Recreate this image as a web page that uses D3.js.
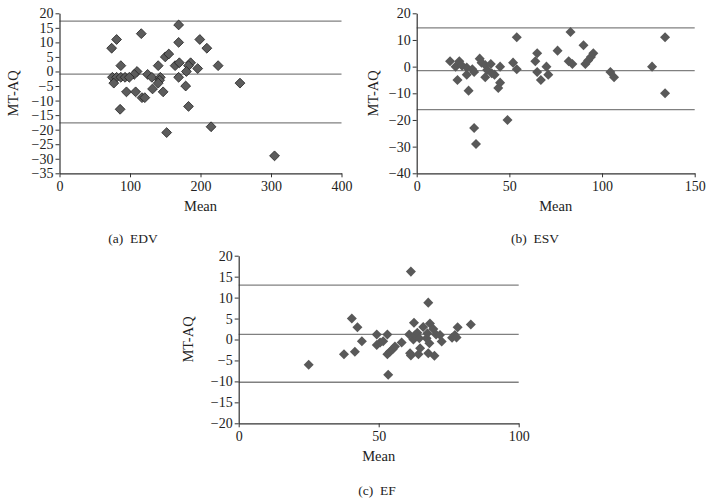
<!DOCTYPE html>
<html><head><meta charset="utf-8">
<script src="https://cdn.jsdelivr.net/npm/d3@7"></script>
<style>
body{margin:0;background:#fff;}
svg{display:block;font-family:"Liberation Serif","DejaVu Serif",serif;}
text{white-space:pre;}
</style></head>
<body><svg id="c" width="712" height="499"></svg>
<script>
// Panel (a) EDV
const edvMean = [169,116,81,74,169,199,209,150,155,87,140,164,170,186,183,196,225,180,110,106,125,131,75,81,87,93,99,77,143,142,140,169,179,95,108,132,147,117,121,86,183,152,215,256,305];
const edvDiff = [16,13,11,8,10,11,8,5,6,2,2,2,3,3,2,1,2,0,0,-1,-1,-2,-2,-2,-2,-2,-2,-4,-2,-3,-4,-2,-5,-7,-7,-6,-7,-9,-9,-13,-12,-21,-19,-4,-29];
const edvLines = [17.3, -0.9, -17.7];
// Panel (b) ESV
const esvMean = [18,21,23,22,24.5,27,27,28,30,31,31,32,34,35,37,37,38,40,40.5,42,44,45,45,49,52,54,54,64,65,65,67,70,71,76,82,84,83,90,91,92.5,94,95.3,104.5,106.5,127,134,134];
const esvDiff = [2,0,2,-5,0.3,-0.3,-3,-9,-1,-2,-23,-29,3,1.5,0.6,-4,-1.3,1,-2.5,-3,-8,-6,0,-20,1.5,11,-1,2,5,-2,-5,0,-3,6,2,1,13,8,1,2.3,3.6,5,-2,-4,0,11,-10];
const esvLines = [14.5, -1.5, -16.1];
// Panel (c) EF
const efMean = [25,37.6,40.4,41.5,42.4,44,49.3,49.3,50.5,51.6,53.1,53.1,54,55,55.8,58.2,53.4,60.9,61.2,61.5,61.5,62.4,62.6,63,63.8,64.5,64.2,64.8,65.9,67.1,67.4,67.7,68.1,68.3,67.7,69.5,69.9,70.5,71.9,72.5,76.2,77.2,77.8,78.2,82.9];
const efDiff = [-6,-3.5,5,-2.9,2.9,-0.4,1.2,-1.3,-0.7,-0.4,1.2,-3.5,-2.9,-2.3,-1.7,-0.7,-8.4,1.2,-3.3,-3.8,16.2,0,4,1.1,1.6,0.3,-3.5,-2.1,3,0.3,1.5,8.8,-0.9,3.8,-3.3,2.5,-3.9,1.2,1.1,-0.5,0.4,1.1,0.5,2.9,3.6];
const efLines = [13.0, 1.2, -10.2];

const yTitle = "MT-AQ";
const xTitle = "Mean";

const svg = d3.select("#c");
const fmt = d => d < 0 ? "\u2212" + Math.abs(d) : String(d);

function panel(o){
  const x = d3.scaleLinear().domain(o.xDomain).range([o.left, o.right]);
  const y = d3.scaleLinear().domain(o.yDomain).range([o.bottom, o.top]);
  const g = svg.append("g");
  g.selectAll("line.lim").data(o.lines).join("line")
    .attr("x1", o.left).attr("x2", o.right)
    .attr("y1", d => y(d)).attr("y2", d => y(d))
    .attr("stroke", "#808080").attr("stroke-width", 1.3);
  const ya = g.append("g").attr("transform", `translate(${o.left},0)`)
    .call(d3.axisLeft(y).tickValues(d3.range(o.yDomain[0], o.yDomain[1] + 0.001, o.yStep)).tickFormat(fmt).tickSize(4).tickSizeOuter(0));
  const xa = g.append("g").attr("transform", `translate(0,${o.bottom})`)
    .call(d3.axisBottom(x).tickValues(d3.range(o.xDomain[0], o.xDomain[1] + 0.001, o.xStep)).tickFormat(fmt).tickSize(4).tickSizeOuter(0));
  [ya, xa].forEach(a => {
    a.select(".domain").attr("stroke", "#333").attr("stroke-width", 1.2);
    a.selectAll(".tick line").attr("stroke", "#333");
    a.selectAll("text").attr("font-family", "Liberation Serif").attr("font-size", 14).attr("fill", "#222");
  });
  ya.selectAll("text").attr("x", -6);
  xa.selectAll("text").attr("y", 8);
  const sym = d3.symbol().type(d3.symbolDiamond2).size(o.size);
  g.selectAll("path.pt").data(o.xs.map((v, i) => [v, o.ys[i]])).join("path")
    .attr("d", sym)
    .attr("transform", d => `translate(${x(d[0])},${y(d[1])})`)
    .attr("fill", o.fill).attr("stroke", o.stroke || "none").attr("stroke-width", 0.8);
  g.append("text").attr("x", (o.left + o.right) / 2).attr("y", o.bottom + 38)
    .attr("text-anchor", "middle").attr("font-size", 14.5).attr("fill", "#222").text(xTitle);
  g.append("text").attr("transform", `translate(${o.yTitleX},${(o.top + o.bottom) / 2}) rotate(-90)`)
    .attr("text-anchor", "middle").attr("font-size", 14.5).attr("fill", "#222").text(yTitle);
  g.append("text").attr("x", o.capX).attr("y", o.capY)
    .attr("text-anchor", "middle").attr("font-size", 13.5).attr("fill", "#222").text(o.caption);
}

panel({xs: edvMean, ys: edvDiff, lines: edvLines, xDomain: [0, 400], xStep: 100, yDomain: [-35, 20], yStep: 5,
  left: 59.5, right: 341.5, top: 13.3, bottom: 173.3, yTitleX: 18, caption: "(a)  EDV", capX: 133, capY: 243,
  fill: "#5c5c5c", stroke: "#222", size: 62});
panel({xs: esvMean, ys: esvDiff, lines: esvLines, xDomain: [0, 150], xStep: 50, yDomain: [-40, 20], yStep: 10,
  left: 416.7, right: 694.7, top: 13.3, bottom: 173.3, yTitleX: 378, caption: "(b)  ESV", capX: 535, capY: 243,
  fill: "#595959", size: 64});
panel({xs: efMean, ys: efDiff, lines: efLines, xDomain: [0, 100], xStep: 50, yDomain: [-20, 20], yStep: 5,
  left: 238.7, right: 518.7, top: 255.7, bottom: 423.3, yTitleX: 193, caption: "(c)  EF", capX: 377, capY: 495,
  fill: "#595959", size: 64});
</script>
</body></html>
